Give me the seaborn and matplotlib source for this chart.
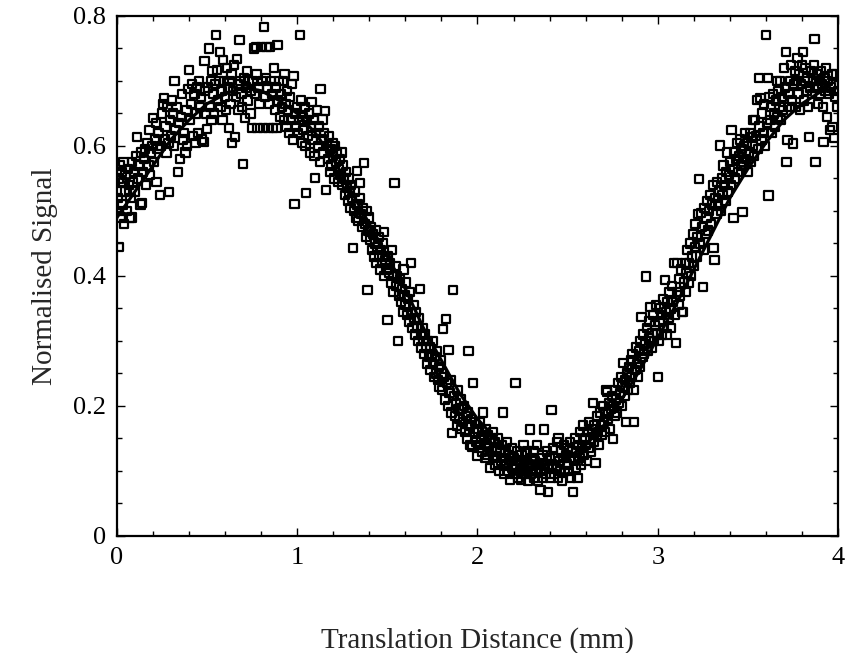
import matplotlib
matplotlib.use("Agg")
import matplotlib.pyplot as plt
from matplotlib.ticker import MultipleLocator
import numpy as np
import pandas as pd
import seaborn as sns

# ---------------- data ----------------
seg_0_05 = [(0.005,0.52),(0.008,0.55),(0.01,0.445),(0.012,0.50),(0.015,0.57),(0.02,0.53),(0.022,0.49),(0.025,0.56),(0.03,0.51),(0.033,0.545),(0.037,0.575),(0.04,0.48),(0.045,0.53),(0.048,0.555),
 (0.055,0.50),(0.06,0.565),(0.065,0.54),(0.07,0.489),(0.075,0.52),(0.08,0.49),(0.085,0.575),(0.09,0.545),(0.095,0.56),
 (0.10,0.53),(0.105,0.585),(0.11,0.614),(0.115,0.55),(0.12,0.57),(0.13,0.51),(0.135,0.59),(0.14,0.512),(0.145,0.56),
 (0.15,0.58),(0.155,0.595),(0.16,0.54),(0.17,0.605),(0.175,0.57),(0.18,0.625),(0.185,0.555),(0.19,0.59),(0.195,0.60),(0.2,0.643),
 (0.205,0.575),(0.21,0.61),(0.215,0.635),(0.22,0.545),(0.225,0.595),(0.23,0.62),(0.24,0.525),(0.245,0.60),(0.25,0.65),
 (0.255,0.665),(0.26,0.674),(0.265,0.61),(0.27,0.63),(0.275,0.59),(0.28,0.66),(0.285,0.605),(0.29,0.529),(0.295,0.64),(0.30,0.615),
 (0.305,0.67),(0.31,0.65),(0.315,0.60),(0.32,0.70),(0.325,0.625),(0.33,0.66),(0.34,0.56),(0.345,0.635),(0.35,0.58),
 (0.355,0.645),(0.36,0.68),(0.365,0.61),(0.37,0.62),(0.38,0.59),(0.385,0.655),(0.39,0.60),(0.395,0.688),(0.40,0.717),
 (0.405,0.64),(0.41,0.665),(0.415,0.695),(0.42,0.615),(0.43,0.68),(0.435,0.605),(0.44,0.65),(0.445,0.69),(0.45,0.62),
 (0.455,0.70),(0.46,0.66),(0.465,0.675),(0.47,0.61),(0.48,0.606),(0.485,0.731),(0.49,0.685),(0.495,0.65),(0.50,0.626)]

seg_05_10 = [(0.505,0.69),(0.51,0.75),(0.515,0.66),(0.52,0.70),(0.525,0.64),(0.53,0.715),(0.535,0.68),(0.54,0.65),(0.545,0.695),(0.55,0.771),
 (0.555,0.717),(0.56,0.67),(0.565,0.70),(0.57,0.745),(0.575,0.66),(0.58,0.685),(0.585,0.64),(0.59,0.732),(0.595,0.70),(0.60,0.675),
 (0.605,0.655),(0.61,0.72),(0.615,0.69),(0.62,0.628),(0.625,0.70),(0.63,0.665),(0.635,0.71),(0.64,0.605),(0.645,0.685),(0.65,0.725),
 (0.655,0.614),(0.66,0.675),(0.665,0.734),(0.67,0.695),(0.675,0.655),(0.68,0.763),(0.685,0.70),(0.69,0.68),(0.695,0.66),(0.70,0.572),
 (0.705,0.705),(0.71,0.643),(0.715,0.69),(0.72,0.715),(0.725,0.67),(0.73,0.70),(0.74,0.65),(0.745,0.685),(0.75,0.628),(0.755,0.70),
 (0.76,0.75),(0.765,0.68),(0.77,0.752),(0.775,0.71),(0.78,0.628),(0.785,0.69),(0.79,0.665),(0.80,0.752),(0.805,0.70),(0.81,0.628),
 (0.815,0.783),(0.82,0.675),(0.825,0.705),(0.83,0.752),(0.835,0.69),(0.84,0.628),(0.845,0.665),(0.85,0.752),(0.855,0.70),(0.86,0.68),
 (0.865,0.628),(0.87,0.72),(0.875,0.655),(0.88,0.69),(0.885,0.628),(0.89,0.755),(0.895,0.67),(0.90,0.70),(0.905,0.645),(0.91,0.68),
 (0.915,0.66),(0.92,0.70),(0.925,0.64),(0.93,0.711),(0.935,0.665),(0.94,0.63),(0.945,0.685),(0.95,0.655),(0.955,0.62),(0.96,0.675),
 (0.965,0.64),(0.97,0.695),(0.975,0.61),(0.98,0.708),(0.985,0.511),(0.99,0.65),(0.995,0.63),(1.00,0.66)]

seg_10_15 = [(1.005,0.62),(1.01,0.64),(1.015,0.771),(1.02,0.67),(1.025,0.605),(1.03,0.645),(1.035,0.625),(1.04,0.66),(1.045,0.60),(1.05,0.528),
 (1.055,0.64),(1.06,0.615),(1.065,0.65),(1.07,0.59),(1.075,0.63),(1.08,0.668),(1.085,0.61),(1.09,0.64),(1.095,0.585),(1.10,0.551),
 (1.105,0.62),(1.11,0.655),(1.115,0.60),(1.12,0.63),(1.125,0.575),(1.13,0.688),(1.135,0.61),(1.14,0.641),(1.145,0.59),(1.15,0.62),
 (1.155,0.654),(1.16,0.532),(1.165,0.60),(1.17,0.58),(1.175,0.615),(1.18,0.56),(1.185,0.595),(1.19,0.57),(1.195,0.605),(1.20,0.585),
 (1.205,0.55),(1.21,0.60),(1.215,0.575),(1.22,0.59),(1.225,0.545),(1.23,0.565),(1.235,0.58),(1.24,0.555),(1.245,0.59),(1.25,0.54),
 (1.255,0.57),(1.26,0.55),(1.265,0.525),(1.27,0.56),(1.275,0.535),(1.28,0.515),(1.285,0.55),(1.29,0.53),(1.295,0.505),(1.30,0.54),
 (1.305,0.52),(1.31,0.443),(1.315,0.50),(1.32,0.53),(1.325,0.49),(1.33,0.562),(1.335,0.51),(1.34,0.485),(1.345,0.52),(1.35,0.543),
 (1.355,0.495),(1.36,0.475),(1.365,0.505),(1.37,0.574),(1.375,0.48),(1.38,0.46),(1.385,0.50),(1.39,0.378),(1.395,0.47),(1.40,0.49),
 (1.405,0.455),(1.41,0.475),(1.415,0.44),(1.42,0.465),(1.425,0.43),(1.43,0.45),(1.435,0.47),(1.44,0.42),(1.445,0.445),(1.45,0.46),
 (1.455,0.43),(1.46,0.41),(1.465,0.44),(1.47,0.42),(1.475,0.45),(1.48,0.468),(1.485,0.40),(1.49,0.425),(1.495,0.41),(1.50,0.332)]

seg_15_20 = [(1.505,0.43),(1.51,0.405),(1.515,0.42),(1.52,0.39),(1.525,0.44),(1.53,0.40),(1.535,0.375),(1.54,0.543),(1.545,0.415),(1.55,0.385),
 (1.555,0.40),(1.56,0.30),(1.565,0.37),(1.57,0.395),(1.575,0.36),(1.58,0.38),(1.585,0.345),(1.59,0.41),(1.595,0.37),(1.60,0.355),
 (1.605,0.39),(1.61,0.34),(1.615,0.365),(1.62,0.33),(1.625,0.375),(1.63,0.42),(1.635,0.345),(1.64,0.32),(1.645,0.355),(1.65,0.335),
 (1.655,0.31),(1.66,0.345),(1.665,0.32),(1.67,0.30),(1.675,0.335),(1.68,0.38),(1.685,0.31),(1.69,0.29),(1.695,0.32),(1.70,0.30),
 (1.705,0.28),(1.71,0.31),(1.715,0.29),(1.72,0.265),(1.725,0.30),(1.73,0.275),(1.735,0.29),(1.74,0.255),(1.745,0.28),(1.75,0.30),
 (1.755,0.265),(1.76,0.245),(1.765,0.275),(1.77,0.25),(1.775,0.285),(1.78,0.24),(1.785,0.26),(1.79,0.23),(1.795,0.27),(1.80,0.25),
 (1.805,0.225),(1.81,0.318),(1.815,0.245),(1.82,0.21),(1.825,0.334),(1.83,0.235),(1.835,0.20),(1.84,0.286),(1.845,0.22),(1.85,0.24),
 (1.855,0.19),(1.86,0.158),(1.865,0.378),(1.87,0.215),(1.875,0.185),(1.88,0.205),(1.885,0.17),(1.89,0.225),(1.895,0.195),(1.90,0.18),
 (1.905,0.21),(1.91,0.165),(1.915,0.195),(1.92,0.175),(1.925,0.20),(1.93,0.16),(1.935,0.185),(1.94,0.15),(1.945,0.19),(1.95,0.285),
 (1.955,0.17),(1.96,0.14),(1.965,0.18),(1.97,0.137),(1.975,0.235),(1.98,0.16),(1.985,0.175),(1.99,0.145),(1.995,0.165),(2.00,0.123)]

seg_20_25 = [(2.005,0.16),(2.01,0.14),(2.015,0.175),(2.02,0.15),(2.025,0.13),(2.03,0.19),(2.035,0.155),(2.04,0.12),(2.045,0.165),(2.05,0.14),
 (2.055,0.125),(2.06,0.155),(2.065,0.135),(2.07,0.105),(2.075,0.15),(2.08,0.13),(2.085,0.16),(2.09,0.12),(2.095,0.145),(2.10,0.11),
 (2.105,0.135),(2.11,0.123),(2.115,0.15),(2.12,0.10),(2.125,0.13),(2.13,0.115),(2.135,0.14),(2.14,0.19),(2.145,0.12),(2.15,0.095),
 (2.155,0.13),(2.16,0.11),(2.165,0.145),(2.17,0.10),(2.175,0.125),(2.18,0.086),(2.185,0.115),(2.19,0.135),(2.195,0.105),(2.20,0.12),
 (2.205,0.095),(2.21,0.235),(2.215,0.11),(2.22,0.13),(2.225,0.09),(2.23,0.115),(2.235,0.10),(2.24,0.087),(2.245,0.125),(2.25,0.105),
 (2.255,0.14),(2.26,0.095),(2.265,0.115),(2.27,0.10),(2.275,0.13),(2.28,0.085),(2.285,0.11),(2.29,0.164),(2.295,0.095),(2.30,0.12),
 (2.305,0.10),(2.31,0.13),(2.315,0.09),(2.32,0.115),(2.325,0.10),(2.33,0.14),(2.335,0.085),(2.34,0.11),(2.345,0.12),(2.35,0.071),
 (2.355,0.10),(2.36,0.125),(2.365,0.09),(2.37,0.164),(2.375,0.11),(2.38,0.095),(2.385,0.13),(2.39,0.068),(2.395,0.105),(2.40,0.12),
 (2.405,0.09),(2.41,0.194),(2.415,0.11),(2.42,0.135),(2.425,0.095),(2.43,0.12),(2.435,0.105),(2.44,0.145),(2.445,0.09),(2.45,0.15),
 (2.455,0.115),(2.46,0.10),(2.465,0.13),(2.47,0.085),(2.475,0.12),(2.48,0.14),(2.485,0.10),(2.49,0.125),(2.495,0.11),(2.50,0.135)]

seg_25_30 = [(2.505,0.10),(2.51,0.12),(2.515,0.145),(2.52,0.09),(2.525,0.13),(2.53,0.068),(2.535,0.115),(2.54,0.15),(2.545,0.105),(2.55,0.13),
 (2.555,0.089),(2.56,0.14),(2.565,0.12),(2.57,0.16),(2.575,0.11),(2.58,0.135),(2.585,0.17),(2.59,0.125),(2.595,0.15),(2.60,0.14),
 (2.605,0.115),(2.61,0.16),(2.615,0.135),(2.62,0.175),(2.625,0.15),(2.63,0.13),(2.635,0.165),(2.64,0.205),(2.645,0.145),(2.65,0.17),
 (2.655,0.112),(2.66,0.155),(2.665,0.185),(2.67,0.16),(2.675,0.14),(2.68,0.19),(2.685,0.17),(2.69,0.155),(2.695,0.20),(2.70,0.175),
 (2.705,0.16),(2.71,0.19),(2.715,0.225),(2.72,0.222),(2.725,0.18),(2.73,0.205),(2.735,0.165),(2.74,0.195),(2.745,0.215),(2.75,0.149),
 (2.755,0.20),(2.76,0.185),(2.765,0.225),(2.77,0.21),(2.775,0.19),(2.78,0.235),(2.785,0.205),(2.79,0.22),(2.795,0.245),(2.80,0.20),
 (2.805,0.23),(2.81,0.266),(2.815,0.215),(2.82,0.24),(2.825,0.175),(2.83,0.25),(2.835,0.225),(2.84,0.26),(2.845,0.235),(2.85,0.27),
 (2.855,0.245),(2.86,0.28),(2.865,0.225),(2.87,0.175),(2.875,0.255),(2.88,0.29),(2.885,0.265),(2.89,0.245),(2.895,0.285),(2.90,0.26),
 (2.905,0.30),(2.91,0.337),(2.915,0.275),(2.92,0.31),(2.925,0.28),(2.93,0.295),(2.935,0.399),(2.94,0.32),(2.945,0.285),(2.95,0.305),
 (2.955,0.33),(2.96,0.352),(2.965,0.29),(2.97,0.312),(2.975,0.34),(2.98,0.30),(2.985,0.325),(2.99,0.355),(2.995,0.31),(3.00,0.245)]

seg_30_35 = [(3.005,0.30),(3.01,0.33),(3.015,0.35),(3.02,0.31),(3.025,0.34),(3.03,0.365),(3.035,0.32),(3.04,0.394),(3.045,0.345),(3.05,0.31),
 (3.055,0.36),(3.06,0.335),(3.065,0.375),(3.07,0.35),(3.075,0.32),(3.08,0.385),(3.085,0.36),(3.09,0.42),(3.095,0.34),(3.10,0.297),
 (3.105,0.375),(3.11,0.42),(3.115,0.355),(3.12,0.395),(3.125,0.37),(3.13,0.41),(3.135,0.345),(3.14,0.345),(3.145,0.39),(3.15,0.42),
 (3.155,0.375),(3.16,0.405),(3.165,0.44),(3.17,0.39),(3.175,0.42),(3.18,0.45),(3.185,0.40),(3.19,0.43),(3.195,0.465),(3.20,0.415),
 (3.205,0.445),(3.21,0.48),(3.215,0.43),(3.22,0.46),(3.225,0.495),(3.23,0.549),(3.235,0.45),(3.24,0.497),(3.245,0.475),(3.25,0.383),
 (3.255,0.44),(3.26,0.505),(3.265,0.465),(3.27,0.49),(3.275,0.515),(3.28,0.47),(3.285,0.50),(3.29,0.525),(3.295,0.48),(3.30,0.51),
 (3.305,0.54),(3.31,0.443),(3.315,0.425),(3.32,0.52),(3.325,0.495),(3.33,0.545),(3.335,0.51),(3.34,0.53),(3.345,0.601),(3.35,0.50),
 (3.355,0.55),(3.36,0.525),(3.365,0.57),(3.37,0.54),(3.375,0.515),(3.38,0.56),(3.385,0.59),(3.39,0.53),(3.395,0.555),(3.40,0.575),
 (3.405,0.54),(3.41,0.625),(3.415,0.565),(3.42,0.489),(3.425,0.59),(3.43,0.55),(3.435,0.58),(3.44,0.605),(3.445,0.56),(3.45,0.585),
 (3.455,0.61),(3.46,0.57),(3.465,0.595),(3.47,0.498),(3.475,0.575),(3.48,0.60),(3.485,0.62),(3.49,0.58),(3.495,0.605),(3.50,0.56)]

seg_35_40 = [(3.505,0.59),(3.51,0.62),(3.515,0.575),(3.52,0.614),(3.525,0.60),(3.53,0.64),(3.535,0.585),(3.54,0.64),(3.545,0.615),(3.55,0.671),
 (3.555,0.595),(3.56,0.705),(3.565,0.63),(3.57,0.674),(3.575,0.61),(3.58,0.65),(3.585,0.62),(3.59,0.665),(3.595,0.60),(3.60,0.771),
 (3.605,0.635),(3.61,0.705),(3.615,0.524),(3.62,0.675),(3.625,0.64),(3.63,0.66),(3.635,0.62),(3.64,0.68),(3.645,0.65),(3.65,0.63),
 (3.655,0.67),(3.66,0.70),(3.665,0.645),(3.67,0.685),(3.675,0.66),(3.68,0.70),(3.685,0.64),(3.69,0.675),(3.695,0.655),(3.70,0.72),
 (3.705,0.69),(3.71,0.745),(3.715,0.575),(3.72,0.609),(3.725,0.68),(3.73,0.66),(3.735,0.70),(3.74,0.725),(3.745,0.67),(3.75,0.604),
 (3.755,0.695),(3.76,0.715),(3.765,0.66),(3.77,0.70),(3.775,0.735),(3.78,0.68),(3.785,0.71),(3.79,0.655),(3.795,0.695),(3.80,0.725),
 (3.805,0.745),(3.81,0.67),(3.815,0.70),(3.82,0.72),(3.825,0.685),(3.83,0.705),(3.835,0.66),(3.84,0.614),(3.845,0.69),(3.85,0.715),
 (3.855,0.68),(3.86,0.70),(3.865,0.725),(3.87,0.765),(3.875,0.575),(3.88,0.69),(3.885,0.71),(3.89,0.665),(3.895,0.70),(3.90,0.68),
 (3.905,0.715),(3.91,0.695),(3.915,0.66),(3.92,0.606),(3.925,0.705),(3.93,0.685),(3.935,0.72),(3.94,0.645),(3.945,0.70),(3.95,0.68),
 (3.955,0.625),(3.96,0.69),(3.965,0.71),(3.97,0.629),(3.975,0.695),(3.98,0.612),(3.985,0.675),(3.99,0.711),(3.995,0.66),(4.00,0.685)]

# fitted curve
fit_x = [0.00,0.10,0.20,0.30,0.40,0.50,0.60,0.70,0.80,0.90,1.00,1.10,1.20,1.30,1.40,1.50,1.60,1.70,1.80,1.90,2.00,
         2.10,2.20,2.30,2.40,2.50,2.60,2.70,2.80,2.90,3.00,3.10,3.20,3.30,3.40,3.50,3.60,3.70,3.80,3.90,4.00]
fit_y = [0.490,0.530,0.570,0.610,0.640,0.665,0.680,0.690,0.685,0.670,0.650,0.620,0.580,0.530,0.480,0.430,0.380,0.320,0.270,0.220,0.180,
         0.150,0.125,0.110,0.110,0.120,0.140,0.170,0.210,0.255,0.305,0.355,0.410,0.465,0.520,0.565,0.605,0.640,0.665,0.683,0.690]

x_ticks = [0, 1, 2, 3, 4]
y_ticks = [0, 0.2, 0.4, 0.6, 0.8]
y_tick_labels = ["0", "0.2", "0.4", "0.6", "0.8"]

# ---------------- plotting ----------------
sns.set_style("ticks")
plt.rcParams["font.family"] = ["Liberation Serif", "DejaVu Serif"]

pts = seg_0_05 + seg_05_10 + seg_10_15 + seg_15_20 + seg_20_25 + seg_25_30 + seg_30_35 + seg_35_40
df = pd.DataFrame(pts, columns=["x", "y"])
fit = pd.DataFrame({"x": fit_x, "y": fit_y})

fig = plt.figure(figsize=(8.5, 6.53), dpi=100)
ax = fig.add_axes([0.1376, 0.1792, 0.8483, 0.7963])

sns.scatterplot(data=df, x="x", y="y", ax=ax, marker="s", s=36,
                facecolor="none", edgecolor="black", linewidth=1.6, zorder=2)
sns.lineplot(data=fit, x="x", y="y", ax=ax, color="black", linewidth=2.3, zorder=3)

ax.set_xlim(0, 4)
ax.set_ylim(0, 0.8)
ax.set_xticks(x_ticks)
ax.set_xticklabels([str(v) for v in x_ticks])
ax.set_yticks(y_ticks)
ax.set_yticklabels(y_tick_labels)
ax.xaxis.set_minor_locator(MultipleLocator(0.2))
ax.yaxis.set_minor_locator(MultipleLocator(0.05))
ax.tick_params(which="both", direction="in", top=True, right=True, colors="black",
               labelsize=19, width=1.0)
ax.tick_params(which="major", length=6, pad=8)
ax.tick_params(which="minor", length=3.5)
for sp in ax.spines.values():
    sp.set_linewidth(1.6)
    sp.set_color("black")
    sp.set_visible(True)

ax.set_xlabel("Translation Distance (mm)", fontsize=21, labelpad=42)
ax.set_ylabel("Normalised Signal", fontsize=21, labelpad=11)

fig.savefig("out.png", dpi=100)
